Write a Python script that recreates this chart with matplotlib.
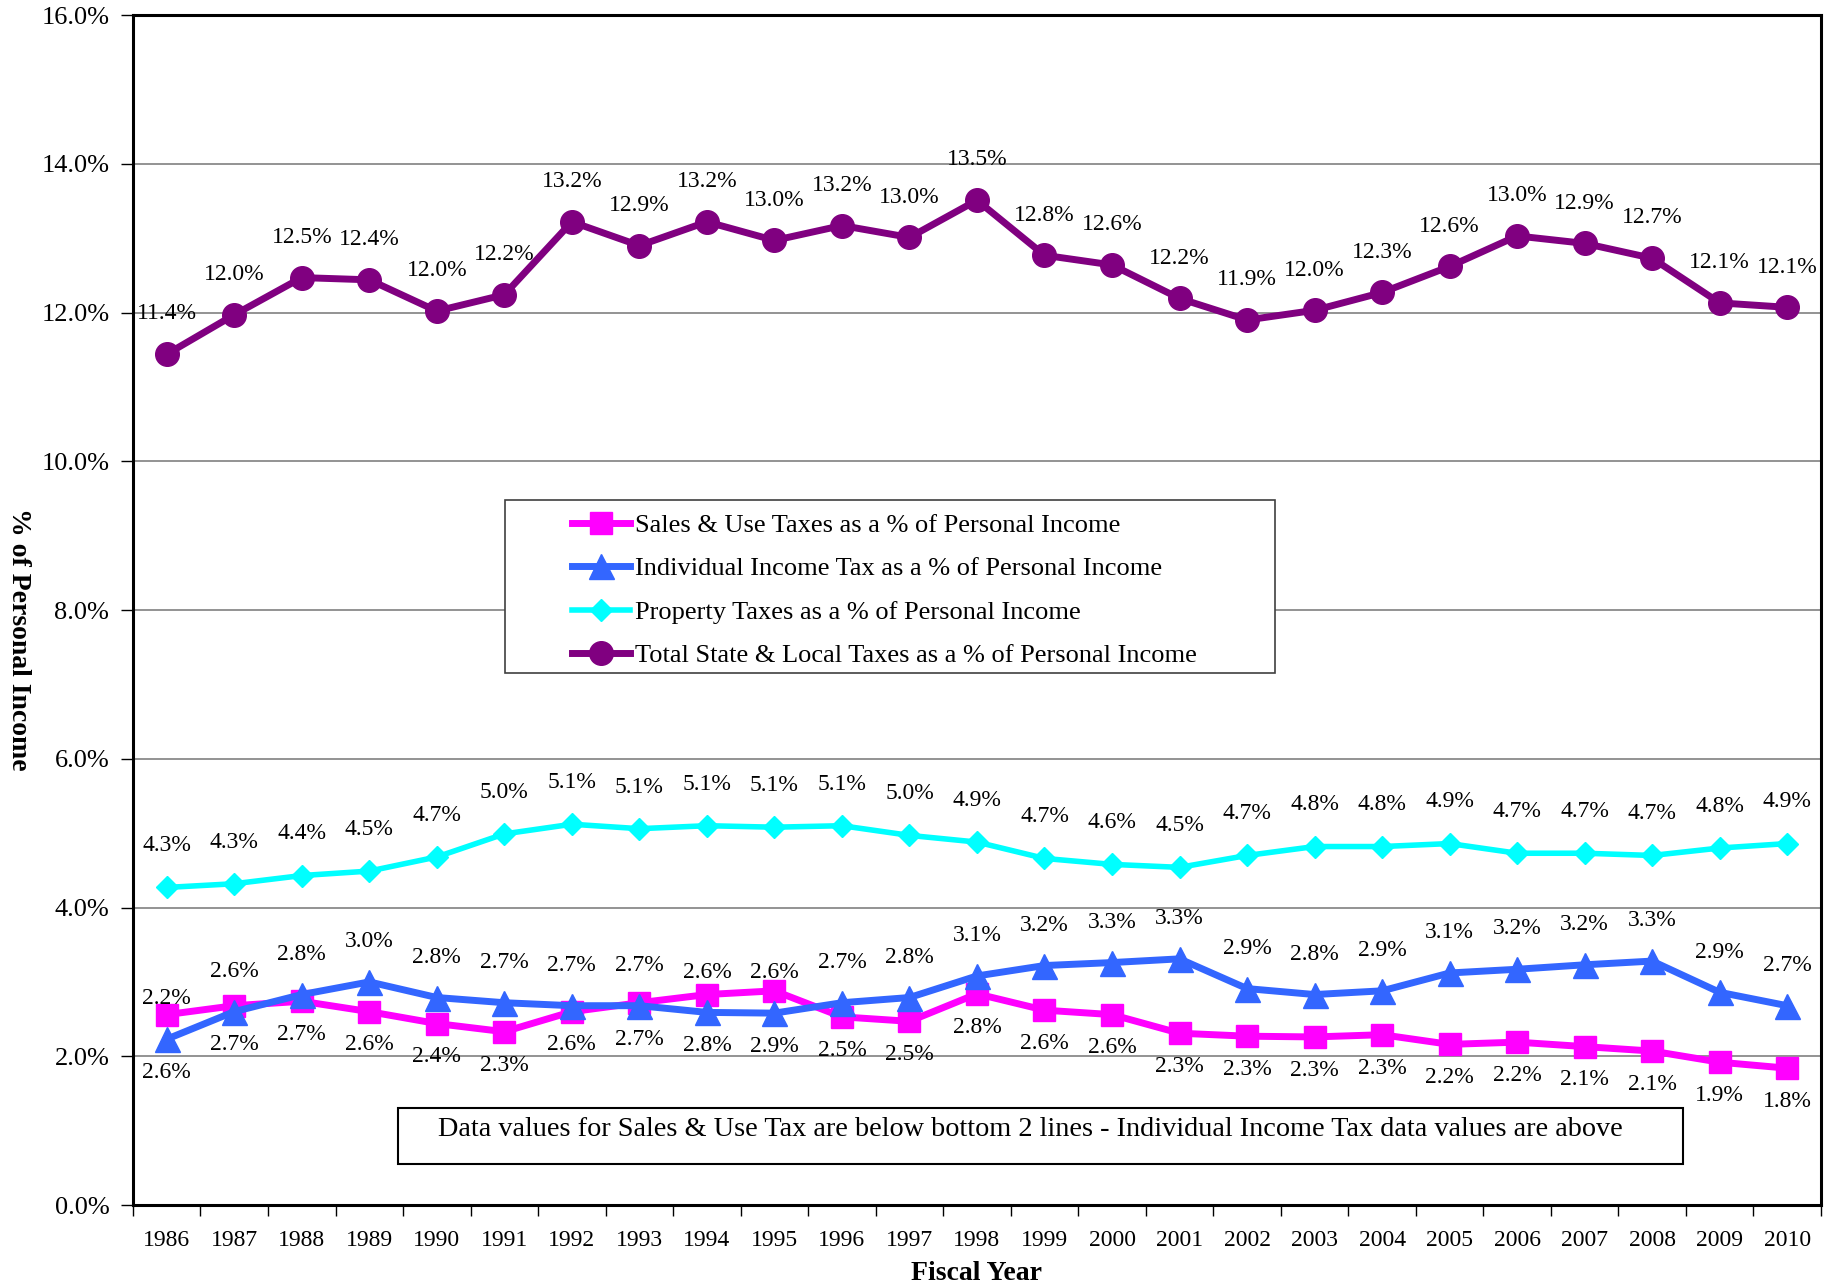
import matplotlib
matplotlib.use("Agg")
import matplotlib.pyplot as plt
from matplotlib.patches import Rectangle

plt.rcParams['font.family'] = ['Liberation Serif', 'DejaVu Serif']

years = list(range(1986, 2011))
sales_use = [2.56, 2.68, 2.74, 2.60, 2.44, 2.33, 2.60, 2.72, 2.83, 2.88, 2.53, 2.47, 2.84,
             2.62, 2.56, 2.31, 2.27, 2.26, 2.29, 2.16, 2.19, 2.13, 2.07, 1.92, 1.84]
income_tax = [2.23, 2.60, 2.83, 3.00, 2.79, 2.72, 2.68, 2.68, 2.59, 2.58, 2.72, 2.79, 3.08,
              3.22, 3.26, 3.31, 2.91, 2.83, 2.88, 3.12, 3.17, 3.23, 3.28, 2.86, 2.68]
property_tax = [4.27, 4.32, 4.43, 4.49, 4.68, 4.99, 5.12, 5.06, 5.10, 5.08, 5.10, 4.97, 4.88,
                4.66, 4.58, 4.54, 4.70, 4.82, 4.82, 4.86, 4.73, 4.73, 4.70, 4.80, 4.86]
total_tax = [11.44, 11.97, 12.47, 12.44, 12.02, 12.24, 13.22, 12.90, 13.22, 12.97, 13.17, 13.01, 13.51,
             12.77, 12.64, 12.19, 11.90, 12.03, 12.27, 12.62, 13.03, 12.93, 12.73, 12.13, 12.07]

labels = ["Sales & Use Taxes as a % of Personal Income",
          "Individual Income Tax as a % of Personal Income",
          "Property Taxes as a % of Personal Income",
          "Total State & Local Taxes as a % of Personal Income"]
note = "Data values for Sales & Use Tax are below bottom 2 lines - Individual Income Tax data values are above"

fig = plt.figure(figsize=(18.34, 12.87), dpi=100)
ax = fig.add_axes([0.0725, 0.0637, 0.9204, 0.9246])
x = list(range(len(years)))

l1, = ax.plot(x, sales_use, color='#FF00FF', lw=5, marker='s', ms=16, zorder=3)
l2, = ax.plot(x, income_tax, color='#3366FF', lw=5, marker='^', ms=18, zorder=4)
l3, = ax.plot(x, property_tax, color='#00FFFF', lw=4, marker='D', ms=11, zorder=3)
l4, = ax.plot(x, total_tax, color='#800080', lw=5, marker='o', ms=17, zorder=3)

lab_fs = 17
for i in x:
    ax.annotate(f"{total_tax[i]:.1f}%", (i, total_tax[i]), xytext=(0, 29), textcoords='offset points',
                ha='center', va='center', fontsize=lab_fs, zorder=6)
    ax.annotate(f"{property_tax[i]:.1f}%", (i, property_tax[i]), xytext=(0, 30), textcoords='offset points',
                ha='center', va='center', fontsize=lab_fs, zorder=6)
    ax.annotate(f"{income_tax[i]:.1f}%", (i, income_tax[i]), xytext=(0, 29), textcoords='offset points',
                ha='center', va='center', fontsize=lab_fs, zorder=6)
    low = min(sales_use[i], income_tax[i])
    ax.annotate(f"{sales_use[i]:.1f}%", (i, low), xytext=(0, -24), textcoords='offset points',
                ha='center', va='center', fontsize=lab_fs, zorder=6)

ax.set_xlim(-0.5, len(years) - 0.5)
ax.set_ylim(0, 16)
ax.set_yticks(range(0, 17, 2))
ax.set_yticklabels([f"{v:.1f}%" for v in range(0, 17, 2)], fontsize=19)
ax.set_xticks(x)
ax.set_xticklabels([str(y) for y in years], fontsize=17)
ax.set_xticks([i - 0.5 for i in range(len(years) + 1)], minor=True)
ax.tick_params(axis='x', which='major', length=0, pad=18)
ax.tick_params(axis='x', which='minor', length=8, width=1, direction='out')
ax.tick_params(axis='y', length=9, width=1, direction='out', pad=8)
ax.grid(axis='y', color='#808080', lw=1.2, zorder=0)
for s in ax.spines.values():
    s.set_linewidth(2.2)
    s.set_color('black')

ax.set_xlabel("Fiscal Year", fontsize=20, fontweight='bold', labelpad=7)
fig.text(18 / 1834, 0.503, "% of Personal Income", rotation=270, fontsize=20, fontweight='bold',
         ha='center', va='center')

# legend box drawn by hand, legend itself frameless inside it
ax.add_patch(Rectangle((5.01, 7.15), 11.4, 2.33, facecolor='white', edgecolor='#404040', lw=1.2, zorder=7))
ax.legend([l1, l2, l3, l4], labels, loc='upper left', bbox_to_anchor=(6.0, 9.30), bbox_transform=ax.transData,
          frameon=False, fontsize=19, handlelength=2.2, handletextpad=0.2, labelspacing=0.76,
          borderaxespad=0, borderpad=0).set_zorder(8)

ax.add_patch(Rectangle((3.43, 0.55), 19.03, 0.76, facecolor='white', edgecolor='black', lw=1.5, zorder=7))
ax.text(4.02, 1.02, note, fontsize=20.3, ha='left', va='center', zorder=8)

fig.savefig("out.png", dpi=100)
